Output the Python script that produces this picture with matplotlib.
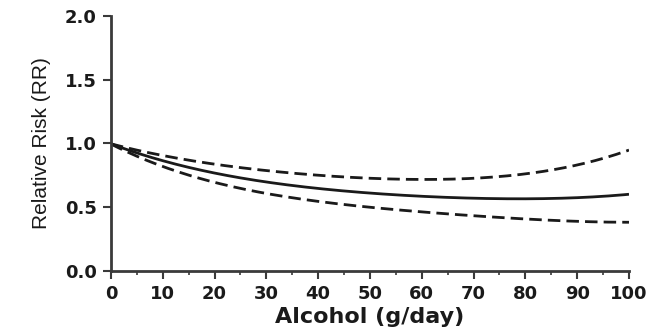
import matplotlib
matplotlib.use("Agg")
import matplotlib.pyplot as plt
import numpy as np

# dose-response estimate with 95% CI, read at every 10 g/day
alcohol = [0, 10, 20, 30, 40, 50, 60, 70, 80, 90, 100]
rr = [1.00, 0.86, 0.77, 0.70, 0.65, 0.61, 0.585, 0.57, 0.565, 0.58, 0.60]
ci_upper = [1.00, 0.90, 0.84, 0.79, 0.75, 0.73, 0.72, 0.72, 0.76, 0.84, 0.945]
ci_lower = [1.00, 0.81, 0.70, 0.61, 0.55, 0.50, 0.46, 0.43, 0.41, 0.395, 0.38]

x_ticks = [0, 10, 20, 30, 40, 50, 60, 70, 80, 90, 100]
y_ticks = [0.0, 0.5, 1.0, 1.5, 2.0]

plt.rcParams["font.family"] = ["Liberation Sans", "DejaVu Sans"]

fig = plt.figure(figsize=(6.6, 3.31), dpi=100)
ax = fig.add_axes([0.168, 0.181, 0.785, 0.771])

# smooth the curves through the read points
xs = np.linspace(0, 100, 201)
def smooth(vals):
    coef = np.polyfit(alcohol, vals, 4)
    return np.polyval(coef, xs)

ink = "#1a1a1a"
ax.plot(xs, smooth(rr), color=ink, lw=2.0, solid_capstyle="butt")
ax.plot(xs, smooth(ci_upper), color=ink, lw=2.0, dashes=(4.5, 2.2))
ax.plot(xs, smooth(ci_lower), color=ink, lw=2.0, dashes=(4.5, 2.2))

ax.set_xlim(0, 100)
ax.set_ylim(0, 2.0)
ax.set_xticks(x_ticks)
ax.set_yticks(y_ticks)
ax.set_yticklabels([f"{v:.1f}" for v in y_ticks])
ax.set_xticks(np.arange(5, 100, 10), minor=True)

for s in ("top", "right"):
    ax.spines[s].set_visible(False)
for s in ("left", "bottom"):
    ax.spines[s].set_linewidth(2.0)
    ax.spines[s].set_color("#3a3a3a")

ax.tick_params(axis="both", which="major", direction="out", length=6, width=1.5,
               colors="#3a3a3a", labelcolor=ink, pad=4)
ax.tick_params(axis="x", which="minor", direction="out", length=3, width=1.2,
               colors="#3a3a3a")
for lbl in ax.get_xticklabels() + ax.get_yticklabels():
    lbl.set_fontfamily("DejaVu Sans")
    lbl.set_fontweight("bold")
    lbl.set_fontsize(13)

ax.set_xlabel("Alcohol (g/day)", fontsize=16, fontweight="bold", family="DejaVu Sans",
              labelpad=3, color=ink)
ax.set_ylabel("Relative Risk (RR)", fontsize=15, color=ink)
ax.yaxis.set_label_coords(-0.115, 0.5)

fig.savefig("out.png", dpi=100)
